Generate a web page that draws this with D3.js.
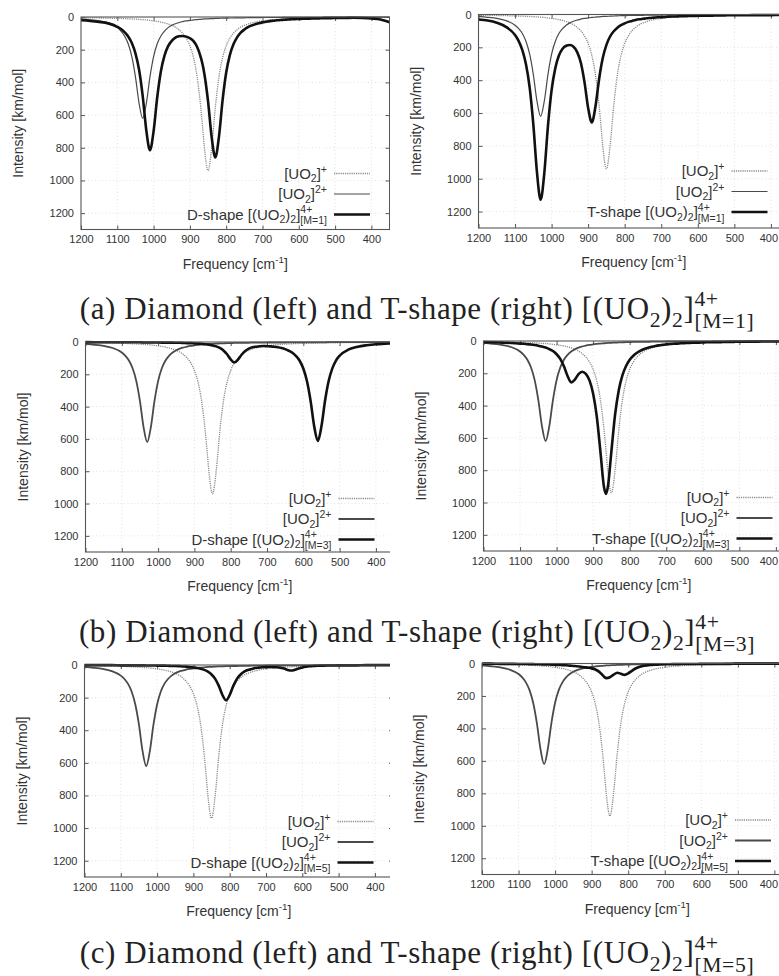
<!DOCTYPE html>
<html>
<head>
<meta charset="utf-8">
<script src="https://cdn.jsdelivr.net/npm/d3@7"></script>
<style>
  body { margin: 0; background: #fff; }
  svg { display: block; }
  .tick text { font-family: "Liberation Sans", Arial, sans-serif; font-size: 11px; fill: #333; }
  .lab { font-family: "Liberation Sans", Arial, sans-serif; fill: #333; }
  .caption { font-family: "Liberation Serif", "Times New Roman", serif; fill: #222; letter-spacing: 0.6px; }
  .grid { stroke: #dadada; stroke-width: 0.8; stroke-dasharray: 1 2.5; }
  .plus { fill: none; stroke: #8a8a8a; stroke-width: 1.3; stroke-dasharray: 1.2 1; }
  .di { fill: none; stroke: #4a4a4a; stroke-linejoin: round; }
  .dimer { fill: none; stroke: #111; stroke-width: 2.6; stroke-linejoin: round; }
  .frame { fill: none; stroke: #555; stroke-width: 1.1; }
</style>
</head>
<body>
<svg id="fig" width="779" height="976"></svg>
<script>
// frequency grid in cm-1, shared by every spectrum below
const freq = [
  1200, 1175, 1150, 1125, 1100, 1090, 1080, 1070, 1060, 1050,
  1040, 1030, 1020, 1010, 1000, 990, 980, 970, 960, 950,
  940, 930, 920, 910, 900, 890, 880, 870, 865, 860,
  850, 840, 830, 820, 810, 800, 790, 780, 770, 760,
  750, 740, 730, 720, 710, 700, 690, 680, 670, 660,
  650, 640, 630, 620, 610, 600, 590, 580, 570, 560,
  550, 540, 530, 520, 510, 500, 475, 450, 425, 400,
  375, 350
];

// [UO2]+ (same in all panels)
const uo2Plus = [
  4, 5, 6, 7, 9, 9, 10, 11, 12, 13,
  15, 16, 18, 21, 24, 27, 31, 36, 43, 51,
  62, 78, 99, 130, 176, 249, 367, 555, 676, 801,
  940, 801, 555, 367, 249, 176, 130, 99, 78, 62,
  51, 43, 36, 31, 27, 24, 21, 18, 16, 15,
  13, 12, 11, 10, 9, 9, 8, 7, 7, 6,
  6, 6, 5, 5, 5, 4, 4, 3, 3, 3,
  2, 2
];

// [UO2]2+ (same in all panels)
const uo2Di = [
  12, 17, 24, 37, 65, 86, 116, 164, 242, 366,
  528, 620, 528, 366, 242, 164, 116, 86, 65, 51,
  41, 34, 28, 24, 21, 18, 16, 14, 13, 12,
  11, 10, 9, 8, 7, 7, 6, 6, 5, 5,
  5, 4, 4, 4, 4, 3, 3, 3, 3, 3,
  3, 2, 2, 2, 2, 2, 2, 2, 2, 2,
  2, 2, 1, 1, 1, 1, 1, 1, 1, 1,
  1, 1
];

// D-shape (diamond) dimer, M=1,3,5
const dM1 = [
  20, 24, 30, 39, 60, 73, 92, 119, 159, 222,
  323, 484, 695, 815, 698, 491, 333, 236, 178, 146,
  126, 118, 116, 120, 130, 148, 184, 247, 291, 350,
  516, 736, 859, 733, 510, 340, 233, 167, 125, 96,
  77, 62, 52, 44, 38, 33, 29, 25, 23, 20,
  18, 17, 15, 14, 13, 12, 11, 10, 10, 9,
  9, 8, 7, 7, 7, 6, 6, 5, 6, 9,
  15, 32
];
const dM3 = [
  1, 2, 2, 2, 2, 2, 2, 2, 2, 2,
  3, 3, 3, 3, 3, 4, 4, 4, 4, 5,
  5, 6, 7, 7, 9, 10, 11, 14, 15, 17,
  21, 27, 37, 52, 76, 108, 127, 109, 79, 56,
  41, 33, 29, 26, 25, 26, 27, 29, 32, 37,
  44, 54, 67, 87, 116, 164, 241, 363, 522, 613,
  522, 362, 240, 163, 115, 85, 46, 29, 20, 14,
  11, 8
];
const dM5 = [
  1, 1, 1, 1, 2, 2, 2, 2, 2, 2,
  2, 3, 3, 3, 4, 4, 4, 5, 6, 6,
  7, 9, 10, 12, 15, 18, 23, 30, 35, 41,
  58, 85, 128, 184, 216, 184, 128, 85, 58, 41,
  31, 25, 19, 16, 14, 13, 12, 13, 14, 17,
  22, 30, 34, 29, 21, 15, 11, 8, 6, 5,
  4, 4, 3, 3, 3, 2, 2, 2, 1, 1,
  1, 1
];

// T-shape dimer, M=1,3,5
const tM1 = [
  30, 37, 50, 75, 125, 162, 217, 305, 445, 669,
  962, 1128, 967, 679, 461, 328, 250, 208, 190, 186,
  196, 229, 294, 412, 569, 657, 560, 393, 323, 265,
  185, 134, 102, 80, 65, 54, 45, 39, 33, 29,
  26, 23, 21, 19, 17, 16, 15, 13, 12, 12,
  11, 10, 10, 9, 9, 8, 8, 7, 7, 7,
  6, 6, 6, 5, 5, 5, 5, 4, 4, 4,
  3, 3
];
const tM3 = [
  7, 8, 10, 12, 16, 17, 20, 22, 25, 29,
  34, 40, 50, 62, 82, 111, 157, 217, 256, 239,
  205, 190, 203, 244, 327, 469, 688, 909, 947, 907,
  681, 456, 306, 213, 155, 116, 91, 73, 59, 49,
  42, 36, 31, 27, 24, 21, 19, 17, 16, 14,
  13, 12, 11, 10, 10, 9, 8, 8, 7, 7,
  7, 6, 6, 6, 5, 5, 4, 4, 3, 3,
  3, 3
];
const tM5 = [
  1, 1, 2, 2, 3, 3, 3, 4, 4, 5,
  5, 6, 6, 7, 8, 9, 10, 11, 13, 15,
  17, 20, 23, 26, 30, 37, 50, 72, 84, 90,
  85, 69, 57, 63, 70, 61, 45, 31, 22, 16,
  12, 9, 8, 7, 6, 5, 5, 4, 4, 4,
  3, 3, 3, 3, 3, 2, 2, 2, 2, 2,
  2, 2, 2, 2, 1, 1, 1, 1, 1, 1,
  1, 1
];

const xTicks = [1200, 1100, 1000, 900, 800, 700, 600, 500, 400];
const yTicks = [0, 200, 400, 600, 800, 1000, 1200];
const captionTags = ["(a)", "(b)", "(c)"];
const mValues = ["1", "3", "5"];

[uo2Plus, uo2Di, dM1, dM3, dM5, tM1, tM3, tM5].forEach((s, i) => {
  if (s.length !== freq.length) throw new Error("series " + i + " has " + s.length + " points");
});

// layout of the six plots (pixels)
const panels = [
  {left: 81,    top: 17,    bottom: 229.5, k: 0.363,  col: 0, shape: "D", m: 0, data: dM1, thin: 1.2},
  {left: 478.5, top: 14.5,  bottom: 228,   k: 0.3655, col: 1, shape: "T", m: 0, data: tM1, thin: 1.2},
  {left: 85.5,  top: 342,   bottom: 552,   k: 0.363,  col: 0, shape: "D", m: 1, data: dM3, thin: 1.8},
  {left: 483.5, top: 341,   bottom: 551,   k: 0.3655, col: 1, shape: "T", m: 1, data: tM3, thin: 1.8},
  {left: 84.5,  top: 665,   bottom: 877,   k: 0.363,  col: 0, shape: "D", m: 2, data: dM5, thin: 1.8},
  {left: 482,   top: 663.5, bottom: 874.5, k: 0.3655, col: 1, shape: "T", m: 2, data: tM5, thin: 1.8}
];
const captionY = [319, 642, 963];
const W = 779;

const svg = d3.select("#fig");
svg.append("rect").attr("width", W).attr("height", 976).attr("fill", "#fff");
svg.append("defs").append("clipPath").attr("id", "clipL")
  .append("rect").attr("x", 0).attr("y", 0).attr("width", 390).attr("height", 976);

// text with sub/superscripts; parts = [[string, kind]], kind: null | "sub" | "sup" | "stack"
function rich(text, parts, size) {
  var shift = 0;
  parts.forEach(function(p) {
    var s = p[0], kind = p[1];
    if (kind === "stack") {
      var up = text.append("tspan").attr("font-size", size * 0.7)
        .attr("dy", -0.42 * size - shift).text(s[0]);
      var w = up.node().getComputedTextLength();
      text.append("tspan").attr("font-size", size * 0.7)
        .attr("dx", -w).attr("dy", 0.72 * size).text(s[1]);
      shift = 0.3 * size;
    } else {
      var target = kind === "sub" ? 0.25 * size : kind === "sup" ? -0.4 * size : 0;
      text.append("tspan").attr("font-size", kind ? size * 0.7 : size)
        .attr("dy", target - shift).text(s);
      shift = target;
    }
  });
  return text;
}

function place(text, x, anchor) {
  var b = text.node().getBBox();
  var off = anchor === "end" ? b.width : anchor === "middle" ? b.width / 2 : 0;
  text.attr("x", x - off - b.x);
}

function drawPanel(p) {
  var x = d3.scaleLinear().domain([1200, 350]).range([p.left, p.left + 850 * p.k]);
  var y = d3.scaleLinear().domain([0, 1300]).range([p.top, p.bottom]);
  var x0 = x.range()[0], x1 = x.range()[1];
  var g = svg.append("g");
  if (p.col === 0) g.attr("clip-path", "url(#clipL)");

  // faint dotted grid
  g.append("g").selectAll("line").data(xTicks.slice(1)).join("line")
    .attr("class", "grid")
    .attr("x1", d => x(d)).attr("x2", d => x(d))
    .attr("y1", p.top).attr("y2", p.bottom);
  g.append("g").selectAll("line").data(yTicks.slice(1)).join("line")
    .attr("class", "grid")
    .attr("x1", x0).attr("x2", x1)
    .attr("y1", d => y(d)).attr("y2", d => y(d));

  // ticks point inwards on all four sides
  var fmt = d3.format("d");
  var axes = [
    [d3.axisBottom(x).tickValues(xTicks).tickFormat(fmt).tickPadding(6), "translate(0," + p.bottom + ")"],
    [d3.axisTop(x).tickValues(xTicks).tickFormat(""), "translate(0," + p.top + ")"],
    [d3.axisLeft(y).tickValues(yTicks).tickFormat(fmt).tickPadding(7), "translate(" + x0 + ",0)"],
    [d3.axisRight(y).tickValues(yTicks).tickFormat(""), "translate(" + x1 + ",0)"]
  ];
  var bottomAxis;
  axes.forEach(function(a, i) {
    var ag = g.append("g").attr("transform", a[1]).attr("color", "#555")
      .call(a[0].tickSize(-4));
    ag.select(".domain").remove();
    if (i === 0) bottomAxis = ag;
  });

  // keep the last tick label inside the page
  bottomAxis.selectAll(".tick text").each(function() {
    var b = this.getBoundingClientRect();
    if (b.right > W - 1) d3.select(this).attr("dx", (W - 1 - b.right) + "px");
  });

  var line = d3.line()
    .x((d, i) => x(freq[i]))
    .y(d => y(d))
    .curve(d3.curveMonotoneX);

  g.append("path").datum(uo2Plus).attr("class", "plus").attr("d", line);
  g.append("path").datum(uo2Di).attr("class", "di").attr("stroke-width", p.thin).attr("d", line);
  g.append("path").datum(p.data).attr("class", "dimer").attr("d", line);

  g.append("rect").attr("class", "frame")
    .attr("x", x0).attr("y", p.top)
    .attr("width", x1 - x0).attr("height", p.bottom - p.top);

  // legend
  var rows = [
    {cls: "plus", parts: [["[UO"], ["2", "sub"], ["]"], ["+", "sup"]]},
    {cls: "di", parts: [["[UO"], ["2", "sub"], ["]"], ["2+", "sup"]]},
    {cls: "dimer", parts: [[p.shape + "-shape [(UO"], ["2", "sub"], [")"], ["2", "sub"], ["]"],
      [["4+", "[M=" + mValues[p.m] + "]"], "stack"]]}
  ];
  rows.forEach(function(r, i) {
    var ry = p.top + 156.5 + i * 20.5;
    var ln = g.append("line").attr("class", r.cls)
      .attr("x1", p.left + 253).attr("x2", p.left + 289)
      .attr("y1", ry).attr("y2", ry);
    if (r.cls === "di") ln.attr("stroke-width", p.thin);
    var t = g.append("text").attr("class", "lab").attr("y", ry + 5);
    rich(t, r.parts, 15);
    place(t, p.left + 246, "end");
  });

  // axis titles
  var cx = (x0 + x1) / 2, cy = (p.top + p.bottom) / 2;
  var xl = svg.append("text").attr("class", "lab").attr("y", p.bottom + 39);
  rich(xl, [["Frequency [cm"], ["-1", "sup"], ["]"]], 14);
  place(xl, cx, "middle");

  svg.append("text").attr("class", "lab")
    .attr("transform", "translate(" + (p.left - 58) + "," + cy + ") rotate(-90)")
    .attr("text-anchor", "middle")
    .attr("font-size", 14)
    .text("Intensity [km/mol]");
}

panels.forEach(drawPanel);

// sub-figure captions
captionTags.forEach(function(tag, i) {
  var t = svg.append("text").attr("class", "caption").attr("y", captionY[i]);
  rich(t, [[tag + " Diamond (left) and T-shape (right) [(UO"], ["2", "sub"], [")"], ["2", "sub"], ["]"],
    [["4+", "[M=" + mValues[i] + "]"], "stack"]], 31);
  place(t, 417, "middle");
});
</script>
</body>
</html>
